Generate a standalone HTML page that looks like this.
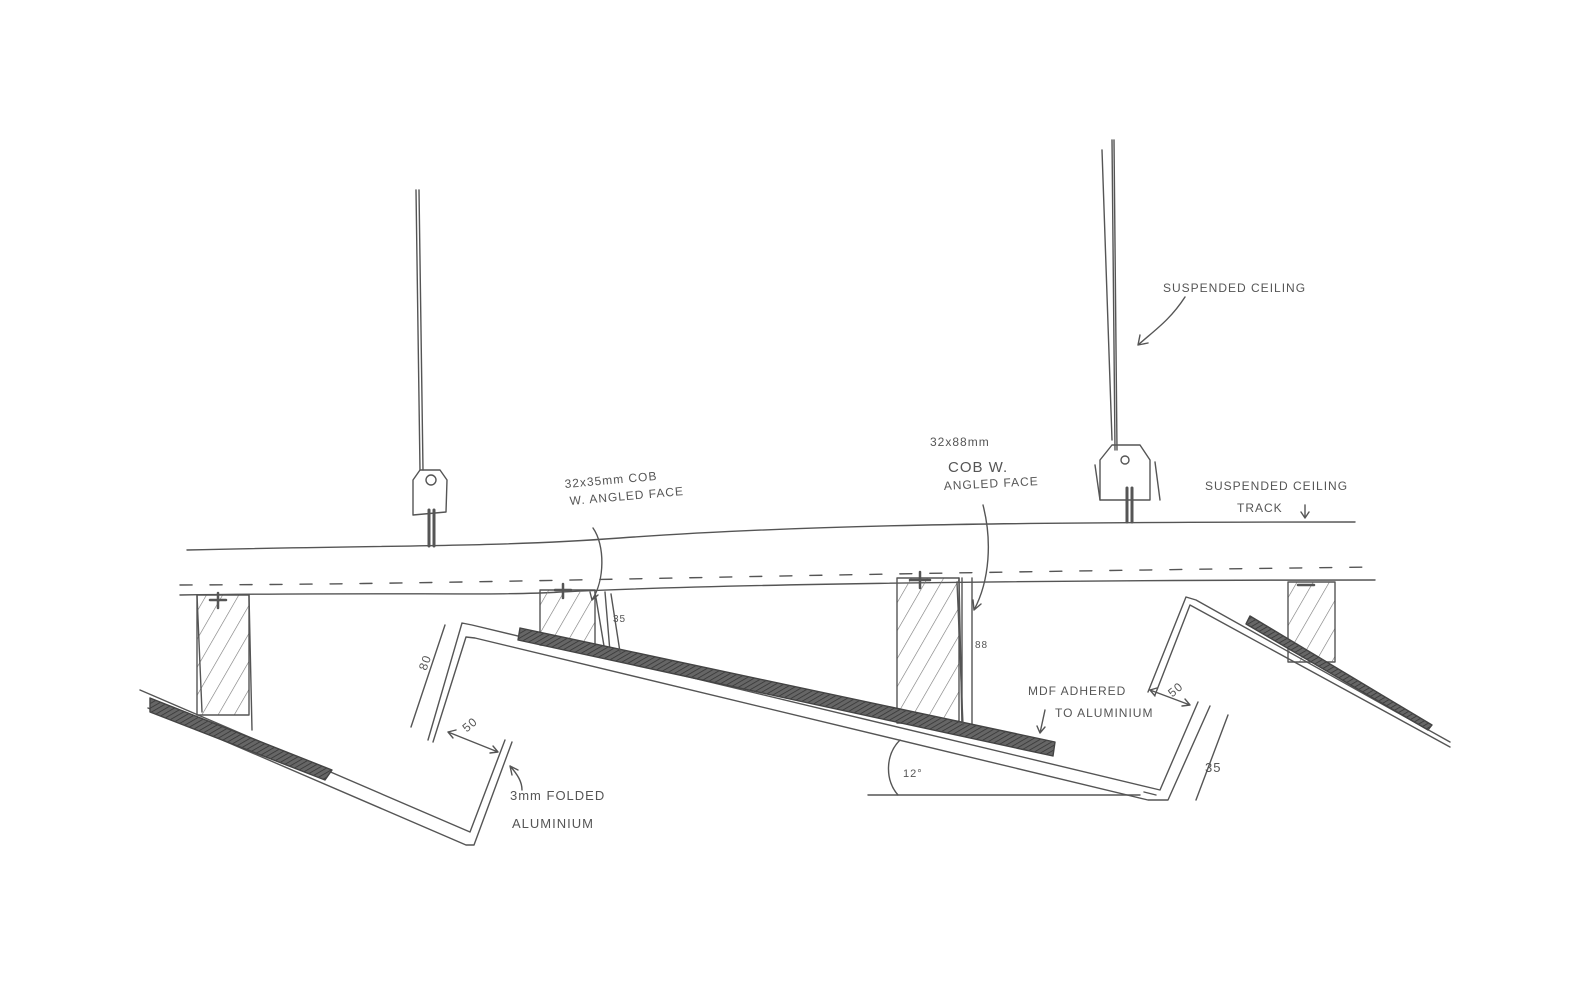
<!DOCTYPE html>
<html><head><style>
html,body{margin:0;padding:0;background:#fff;}
svg{display:block}
text{font-family:"Liberation Sans",sans-serif;fill:#555;}
</style></head><body>
<svg width="1585" height="1005" viewBox="0 0 1585 1005" xmlns="http://www.w3.org/2000/svg">
<defs>
<pattern id="h" width="14" height="14" patternUnits="userSpaceOnUse" patternTransform="rotate(30)">
<line x1="0" y1="0" x2="0" y2="14" stroke="#777" stroke-width="1.2"/>
</pattern>
<pattern id="m" width="4" height="4" patternUnits="userSpaceOnUse" patternTransform="rotate(60)">
<rect width="4" height="4" fill="#666"/><line x1="0" y1="0" x2="0" y2="4" stroke="#333" stroke-width="1.5"/>
</pattern>
</defs>
<g fill="none" stroke="#555" stroke-width="1.4" stroke-linecap="round" stroke-linejoin="round">
<!-- hanger rods -->
<path d="M416 190 L420 470 M419 190 L423 470"/>
<path d="M1112 140 L1115 450 M1114 140 L1117 450" />
<path d="M1102 150 L1112 440"/>
<!-- left bracket -->
<path d="M413 480 L420 470 L440 470 L447 480 L446 512 L413 515 Z"/>
<circle cx="431" cy="480" r="5"/>
<path d="M429 510 L429 546 M434 510 L434 546" stroke-width="3"/>
<!-- right bracket -->
<path d="M1100 460 L1112 445 L1140 445 L1150 460 L1150 500 L1100 500 Z"/>
<path d="M1095 465 L1100 500 M1155 462 L1160 500"/>
<circle cx="1125" cy="460" r="4"/>
<path d="M1127 488 L1127 522 M1132 488 L1132 522" stroke-width="3"/>
<!-- track lines -->
<path d="M187 550 C400 545 500 547 620 538 C800 525 1000 522 1355 522"/>
<path d="M180 585 C500 584 700 575 1375 567" stroke-dasharray="12 18"/>
<path d="M180 595 C400 592 500 596 560 592 C700 585 1000 580 1375 580"/>
<!-- blocks -->
<rect x="197" y="595" width="52" height="120" fill="url(#h)"/>
<path d="M197 595 L202 712 M249 595 L252 730"/>
<rect x="540" y="590" width="55" height="55" fill="url(#h)"/>
<path d="M595 592 L605 652 M605 592 L610 652"/>
<rect x="897" y="578" width="62" height="145" fill="url(#h)"/>
<path d="M959 578 L962 727 M972 578 L972 727 M962 578 L962 727"/>
<rect x="1288" y="582" width="47" height="80" fill="url(#h)"/>
<!-- screws -->
<path d="M210 600 L226 600 M218 593 L218 608 M555 590 L571 590 M563 584 L563 598 M910 580 L930 580 M920 572 L920 588 M1298 585 L1314 585" stroke-width="2.5"/>
<!-- panel 1 -->
<path d="M140 690 L470 832 L505 740 M148 708 L466 845 L474 845 L512 742"/>
<path d="M150 698 L332 770 L325 780 L150 712 Z" fill="url(#m)" stroke="#444"/>
<!-- panel 2 -->
<path d="M428 740 L462 623 L472 625 L1160 790 L1198 702 M433 742 L466 637 L475 638 L1148 800 L1168 800 L1210 706"/>
<path d="M520 628 L1055 742 L1053 756 L518 640 Z" fill="url(#m)" stroke="#444"/>
<path d="M1144 792 L1156 795"/>
<!-- panel 3 -->
<path d="M1148 692 L1186 597 L1196 600 L1450 742 M1155 695 L1190 605 L1450 747"/>
<path d="M1250 616 L1432 725 L1428 730 L1246 624 Z" fill="url(#m)" stroke="#444"/>
<!-- dimension lines -->
<path d="M411 727 L445 625"/>
<path d="M448 732 L498 752 M448 732 L456 730 M448 732 L453 738 M498 752 L490 753 M498 752 L493 746"/>
<path d="M611 594 L620 652"/>
<path d="M957 582 L963 725"/>
<path d="M1196 800 L1228 715"/>
<path d="M1150 690 L1190 705 M1150 690 L1157 688 M1150 690 L1155 696 M1190 705 L1182 706 M1190 705 L1185 699"/>
<!-- 12 degree -->
<path d="M868 795 L1140 795"/>
<path d="M900 740 C885 755 885 780 898 795"/>
<!-- leaders -->
<path d="M1185 297 C1170 320 1155 330 1138 345 M1138 345 L1140 335 M1138 345 L1148 343"/>
<path d="M593 528 C605 545 605 580 592 600 M592 600 L590 592 M592 600 L598 595"/>
<path d="M983 505 C992 540 990 580 974 610 M974 610 L973 600 M974 610 L981 604"/>
<path d="M1305 505 L1305 518 M1305 518 L1301 512 M1305 518 L1309 512"/>
<path d="M1045 710 L1040 733 M1040 733 L1037 726 M1040 733 L1045 727"/>
<path d="M510 766 C518 775 522 782 522 790 M510 766 L512 775 M510 766 L518 770"/>
</g>
<g font-size="12" letter-spacing="1">
<text x="1163" y="292">SUSPENDED CEILING</text>
<text x="565" y="488" transform="rotate(-5 565 488)">32x35mm COB</text>
<text x="570" y="505" transform="rotate(-5 570 505)">W. ANGLED FACE</text>
<text x="930" y="446">32x88mm</text>
<text x="948" y="472" font-size="15">COB W.</text>
<text x="944" y="490" transform="rotate(-3 944 490)">ANGLED FACE</text>
<text x="1205" y="490">SUSPENDED CEILING</text>
<text x="1237" y="512">TRACK</text>
<text x="613" y="622" font-size="10">35</text>
<text x="975" y="648" font-size="10">88</text>
<text x="415" y="665" font-size="12" transform="rotate(-70 425 660)">80</text>
<text x="462" y="730" font-size="12" transform="rotate(-40 468 725)">50</text>
<text x="510" y="800" font-size="13">3mm FOLDED</text>
<text x="512" y="828" font-size="13">ALUMINIUM</text>
<text x="903" y="777" font-size="11">12°</text>
<text x="1028" y="695">MDF ADHERED</text>
<text x="1055" y="717">TO ALUMINIUM</text>
<text x="1168" y="694" font-size="12" transform="rotate(-40 1175 690)">50</text>
<text x="1205" y="772" font-size="13">35</text>
</g>
</svg>
</body></html>
